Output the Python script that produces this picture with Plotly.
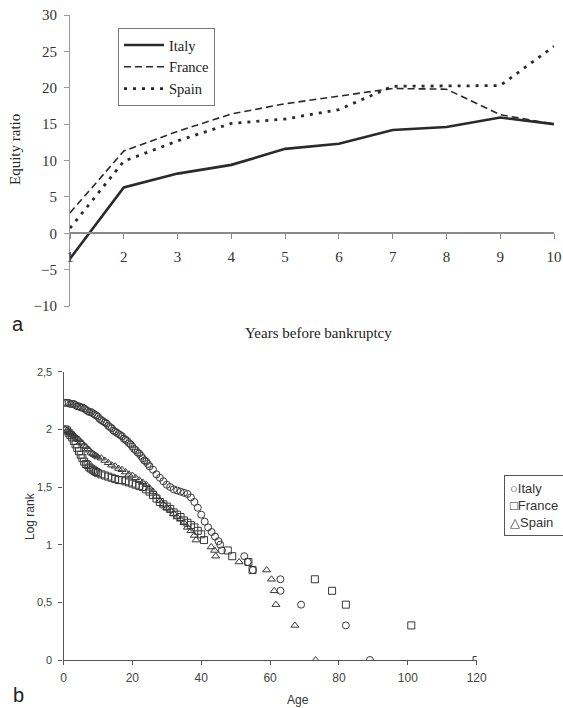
import plotly.graph_objects as go

# ---------------- Panel a: equity ratio ----------------
years = [1, 2, 3, 4, 5, 6, 7, 8, 9, 10]
italy_eq = [-3.5, 6.3, 8.2, 9.4, 11.6, 12.3, 14.2, 14.6, 15.9, 15.0]
france_eq = [2.8, 11.3, 14.0, 16.4, 17.8, 18.9, 19.9, 19.8, 16.3, 15.0]
spain_eq = [0.7, 9.9, 12.7, 15.1, 15.7, 17.0, 20.2, 20.3, 20.3, 25.7]
eq_ticks = [-10, -5, 0, 5, 10, 15, 20, 25, 30]

# ---------------- Panel b: log rank vs age ----------------
italy_age = [0.5, 1, 1.5, 2, 2.5, 3, 3.5, 4, 4.5, 5, 5.5, 6, 6.5, 7, 7.5, 8, 8.5, 9, 9.5, 10,
             10.5, 11, 11.5, 12, 12.5, 13, 13.5, 14, 14.5, 15, 15.5, 16, 16.5, 17, 17.5, 18,
             18.5, 19, 19.5, 20, 20.5, 21, 21.5, 22, 22.5, 23, 23.5, 24, 24.5, 25, 26, 27, 28,
             29, 30, 31, 32, 33, 34, 35, 36, 37, 38, 39, 40, 41, 42, 43, 44, 45, 45.5, 46,
             52.5, 53.5, 55, 63, 63, 69, 82, 89]
italy_lr = [2.23, 2.23, 2.23, 2.22, 2.22, 2.22, 2.21, 2.20, 2.20, 2.19, 2.19, 2.18, 2.17, 2.16,
            2.15, 2.15, 2.14, 2.13, 2.12, 2.11, 2.09, 2.08, 2.07, 2.06, 2.05, 2.03, 2.02, 2.01,
            1.99, 1.98, 1.97, 1.96, 1.95, 1.94, 1.92, 1.91, 1.90, 1.88, 1.87, 1.85, 1.83, 1.82,
            1.80, 1.79, 1.77, 1.75, 1.73, 1.72, 1.70, 1.68, 1.65, 1.61, 1.58, 1.55, 1.52, 1.50,
            1.48, 1.47, 1.46, 1.45, 1.44, 1.41, 1.37, 1.32, 1.26, 1.20, 1.15, 1.11, 1.07, 1.03,
            1.00, 0.95, 0.90, 0.85, 0.78, 0.70, 0.60, 0.48, 0.30, 0.00]

france_age = [0.5, 1, 1.5, 2, 2.5, 3, 3.5, 4, 4.5, 5, 5.5, 6, 6.5, 7, 7.5, 8, 8.5, 9, 9.5, 10,
              11, 12, 13, 14, 15, 16, 17, 18, 19, 20, 21, 22, 23, 24, 25, 26, 27, 28, 29, 30,
              31, 32, 33, 34, 35, 36, 37, 38, 39, 40, 40.8, 47.7, 49, 53.7, 54.9, 73, 78, 82,
              101, 120]
france_lr = [2.00, 1.99, 1.97, 1.95, 1.93, 1.90, 1.87, 1.84, 1.81, 1.78, 1.75, 1.72, 1.70, 1.69,
             1.67, 1.66, 1.65, 1.64, 1.63, 1.62, 1.61, 1.60, 1.59, 1.58, 1.57, 1.56, 1.56, 1.55,
             1.54, 1.53, 1.52, 1.51, 1.50, 1.48, 1.46, 1.43, 1.40, 1.37, 1.35, 1.33, 1.31, 1.28,
             1.26, 1.24, 1.21, 1.19, 1.17, 1.15, 1.12, 1.09, 1.04, 0.95, 0.90, 0.85, 0.78, 0.70,
             0.60, 0.48, 0.30, 0.00]

spain_age = [0.5, 1, 1.5, 2, 2.5, 3, 3.5, 4, 4.5, 5, 5.5, 6, 6.5, 7, 7.5, 8, 8.5, 9, 9.5, 10,
             11, 12, 13, 14, 15, 16, 17, 18, 19, 20, 21, 22, 23, 24, 25, 26, 27, 28, 29, 30,
             31, 32, 33, 34, 35, 36, 37, 38, 38.5, 42.9, 43.9, 44.2, 51, 59, 60.4, 61.2, 61.7,
             67.2, 73.2]
spain_lr = [2.00, 1.99, 1.98, 1.97, 1.96, 1.95, 1.93, 1.92, 1.91, 1.89, 1.88, 1.86, 1.85, 1.83,
            1.82, 1.80, 1.79, 1.78, 1.77, 1.76, 1.75, 1.73, 1.71, 1.69, 1.68, 1.66, 1.65, 1.63,
            1.61, 1.60, 1.58, 1.56, 1.54, 1.52, 1.49, 1.46, 1.42, 1.38, 1.35, 1.32, 1.30, 1.27,
            1.24, 1.22, 1.19, 1.15, 1.12, 1.08, 1.04, 0.98, 0.95, 0.90, 0.85, 0.78, 0.70, 0.60,
            0.48, 0.30, 0.00]

lr_ticks = [0, 0.5, 1, 1.5, 2, 2.5]
lr_labels = ["0", "0,5", "1", "1,5", "2", "2,5"]
age_ticks = [0, 20, 40, 60, 80, 100, 120]

W, H = 563, 708
def px(x):
    return x / W
def py(y):
    return 1 - y / H

SERIF = "Liberation Serif, DejaVu Serif, serif"
SANS = "Liberation Sans, Arial, sans-serif"
LINE = "#2a2a2a"

fig = go.Figure()

fig.add_trace(go.Scatter(x=years, y=italy_eq, name="Italy", mode="lines",
                         line=dict(color=LINE, width=2.6), xaxis="x", yaxis="y", legend="legend"))
fig.add_trace(go.Scatter(x=years, y=france_eq, name="France", mode="lines",
                         line=dict(color=LINE, width=1.6, dash="7px,4px"), xaxis="x", yaxis="y",
                         legend="legend"))
fig.add_trace(go.Scatter(x=years, y=spain_eq, name="Spain", mode="lines",
                         line=dict(color=LINE, width=2.8, dash="3px,6px"), xaxis="x", yaxis="y",
                         legend="legend"))

mk = dict(size=7, color="#383838", line=dict(width=1))
fig.add_trace(go.Scatter(x=italy_age, y=italy_lr, name="Italy", mode="markers",
                         marker=dict(symbol="circle-open", **mk), xaxis="x2", yaxis="y2",
                         showlegend=False))
fig.add_trace(go.Scatter(x=france_age, y=france_lr, name="France", mode="markers",
                         marker=dict(symbol="square-open", **mk), xaxis="x2", yaxis="y2",
                         showlegend=False))
fig.add_trace(go.Scatter(x=spain_age, y=spain_lr, name="Spain", mode="markers",
                         marker=dict(symbol="triangle-up-open", **mk), xaxis="x2", yaxis="y2",
                         showlegend=False))

def label(text, x, y, size, family, angle=0, color="#222"):
    return dict(text=text, x=px(x), y=py(y), xref="paper", yref="paper",
                xanchor="center", yanchor="middle", textangle=angle, showarrow=False,
                font=dict(family=family, size=size, color=color))

fig.update_layout(
    width=W, height=H, autosize=False,
    margin=dict(l=0, r=0, t=0, b=0, pad=0, autoexpand=False),
    paper_bgcolor="white", plot_bgcolor="white",
    xaxis=dict(domain=[px(70), px(554)], range=[1, 10], tickvals=years,
               anchor="free", position=py(233), showgrid=False, zeroline=False,
               showline=True, linecolor="#8a8a8a", linewidth=1.5,
               ticks="outside", ticklen=5, tickcolor="#8a8a8a", automargin=False,
               tickfont=dict(family=SERIF, size=15, color="#333"), ticklabelstandoff=5),
    yaxis=dict(domain=[py(306), py(15)], range=[-10, 30], tickvals=eq_ticks,
               anchor="x", showgrid=False, zeroline=False, automargin=False,
               showline=True, linecolor="#9a9a9a", linewidth=1,
               ticks="outside", ticklen=5, tickcolor="#9a9a9a",
               tickfont=dict(family=SERIF, size=15, color="#333"), ticklabelstandoff=4),
    xaxis2=dict(domain=[px(63.5), px(476.7)], range=[0, 120], tickvals=age_ticks,
                anchor="y2", showgrid=False, zeroline=False, automargin=False,
                showline=True, linecolor="#555", linewidth=1.2,
                ticks="outside", ticklen=4, tickcolor="#555", ticklabelstandoff=2,
                tickfont=dict(family=SANS, size=12, color="#444")),
    yaxis2=dict(domain=[py(660), py(371.7)], range=[0, 2.5], tickvals=lr_ticks,
                ticktext=lr_labels, anchor="x2", showgrid=False, zeroline=False,
                automargin=False,
                showline=True, linecolor="#555", linewidth=1.2,
                ticks="outside", ticklen=4, tickcolor="#555", ticklabelstandoff=4,
                tickfont=dict(family=SANS, size=11, color="#444")),
    legend=dict(x=px(118), y=py(28), xanchor="left", yanchor="top",
                bordercolor="#777", borderwidth=1, bgcolor="white",
                font=dict(family=SERIF, size=14.5, color="#222"), itemwidth=40,
                tracegroupgap=0),
    annotations=[
        label("Equity ratio", 15, 150, 15, SERIF, angle=-90),
        label("Years before bankruptcy", 318, 333, 15, SERIF),
        label("a", 18, 324, 20, SANS),
        label("Log rank", 30, 516, 12, SANS, angle=-90, color="#333"),
        label("Age", 298, 700, 12, SANS, color="#333"),
        label("b", 18, 695, 20, SANS),
        dict(text="○Italy<br>□France<br>△Spain", x=px(504), y=py(475),
             xref="paper", yref="paper", xanchor="left", yanchor="top", align="left",
             showarrow=False, bordercolor="#555", borderwidth=1, borderpad=5,
             bgcolor="white", font=dict(family=SANS, size=13, color="#333")),
    ],
)

fig.write_html("out.html")
